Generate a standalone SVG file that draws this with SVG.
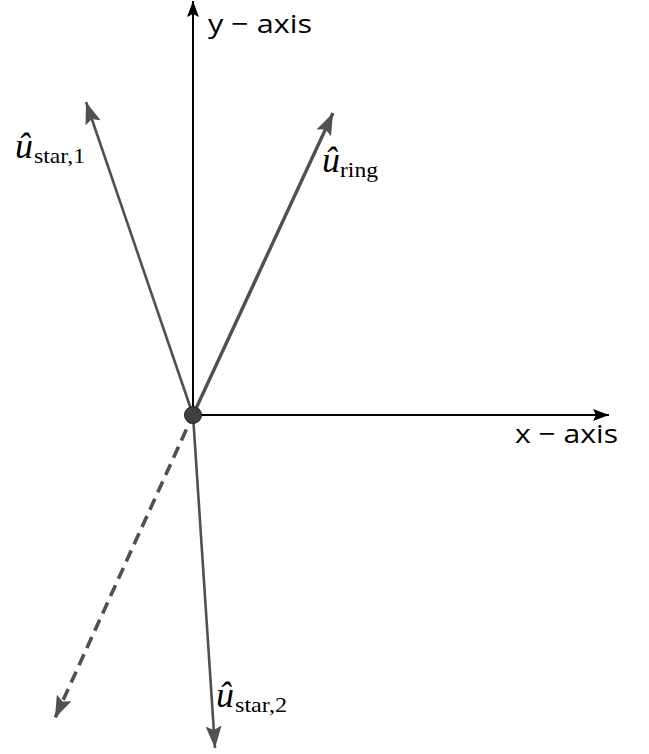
<svg xmlns="http://www.w3.org/2000/svg" width="649" height="754" viewBox="0 0 649 754">
<style>
.axis{stroke:#000;stroke-width:2;fill:none}
.vec{stroke:#505050;stroke-width:2.6;fill:none}
.ax-label{font-family:"Open Sans","Noto Sans",sans-serif;font-size:26px;fill:#000}
.m{font-family:"Liberation Serif",serif;fill:#000}
.mi{font-style:italic;font-size:36px}
.sub{font-size:22px}
</style>
<defs>
<marker id="ah-axis" markerUnits="userSpaceOnUse" viewBox="0 0 16 12" refX="16" refY="6" markerWidth="16" markerHeight="12" orient="auto">
<path d="M0,0 L16,6 L0,12 L3,6 Z" fill="#000"/>
</marker>
<marker id="ah-vec" markerUnits="userSpaceOnUse" viewBox="0 0 22 16" refX="22" refY="8" markerWidth="22" markerHeight="16" orient="auto">
<path d="M0,0 L22,8 L0,16 L4,8 Z" fill="#505050"/>
</marker>
</defs>
<g id="connectors">
<line id="y-axis-line" class="axis" x1="193" y1="415" x2="193" y2="1" marker-end="url(#ah-axis)"/>
<line id="x-axis-line" class="axis" x1="193" y1="415" x2="609" y2="415" marker-end="url(#ah-axis)"/>
<line id="u-star1" class="vec" x1="193" y1="415" x2="86" y2="102" marker-end="url(#ah-vec)"/>
<line id="u-ring" class="vec" style="stroke-width:3.4" x1="193" y1="415" x2="333" y2="113" marker-end="url(#ah-vec)"/>
<line id="u-star2" class="vec" x1="193" y1="415" x2="215" y2="748" marker-end="url(#ah-vec)"/>
<line id="u-dashed" class="vec" style="stroke-width:3.6;stroke-dasharray:12 7;stroke-dashoffset:-16" x1="193" y1="415" x2="55" y2="718" marker-end="url(#ah-vec)"/>
</g>
<g id="origin">
<circle cx="193" cy="415" r="8.5" fill="#404040" stroke="#222" stroke-width="1"/>
</g>
<g id="y-axis-label">
<text class="ax-label" x="208" y="33" textLength="104" lengthAdjust="spacingAndGlyphs">y − axis</text>
</g>
<g id="x-axis-label">
<text class="ax-label" x="515" y="443" textLength="103" lengthAdjust="spacingAndGlyphs">x − axis</text>
</g>
<g id="label-star1">
<text class="m mi" x="15" y="158">û</text>
<text class="m sub" x="34" y="163" textLength="51" lengthAdjust="spacingAndGlyphs">star,1</text>
</g>
<g id="label-ring">
<text class="m mi" x="322" y="172">û</text>
<text class="m sub" x="340" y="177" textLength="38" lengthAdjust="spacingAndGlyphs">ring</text>
</g>
<g id="label-star2">
<text class="m mi" x="216" y="707">û</text>
<text class="m sub" x="235" y="712" textLength="52" lengthAdjust="spacingAndGlyphs">star,2</text>
</g>
</svg>
